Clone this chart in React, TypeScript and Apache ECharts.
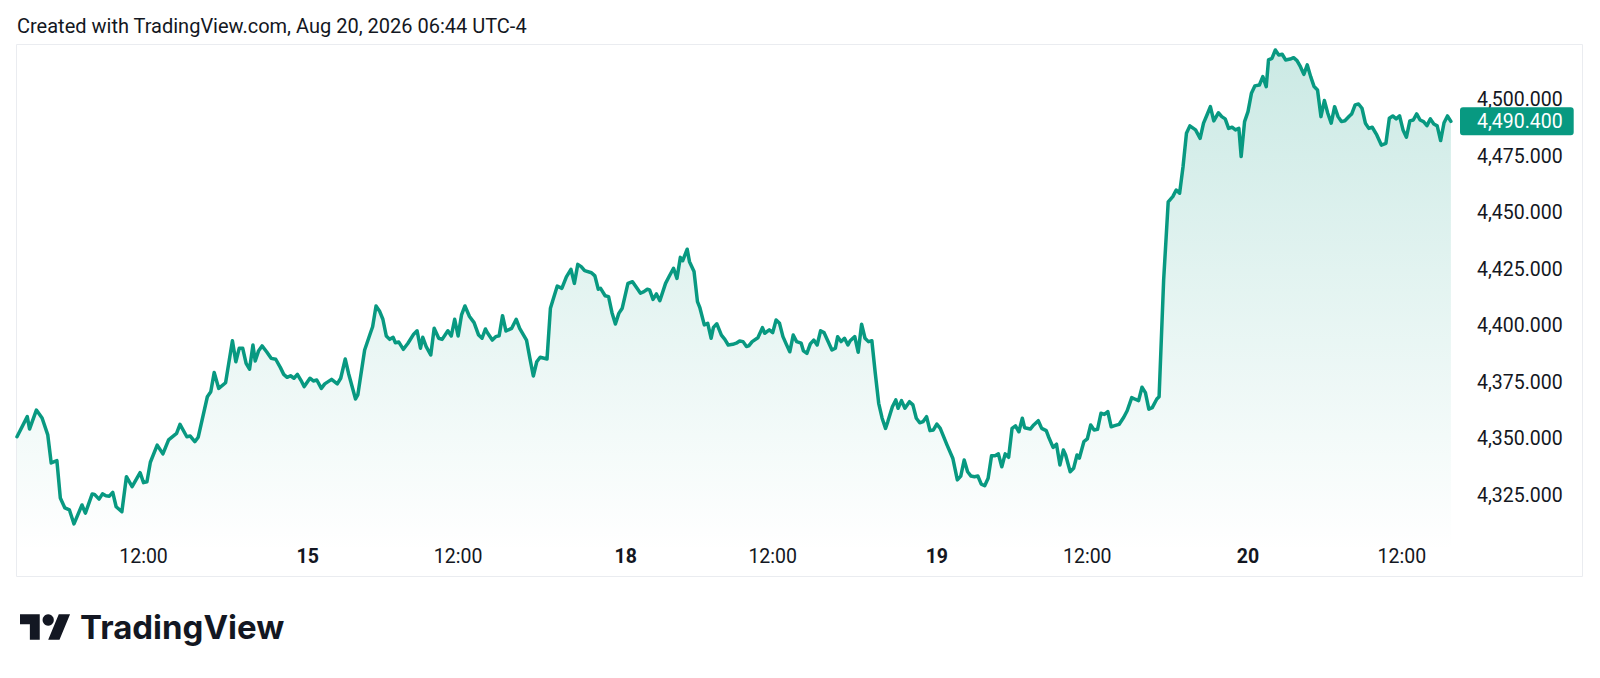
import React, { useEffect, useRef } from "react";
import * as echarts from "echarts";

// time slot (5-minute steps along the compressed trading-time axis)
const slotTimes = [
  0, 9, 11, 17, 22, 27, 30, 35, 38, 42, 46, 50, 57, 60, 66, 68, 72, 75, 78, 81, 84, 87, 92, 96, 101, 108, 111, 114, 117, 123,
  128, 133, 140, 143, 149, 152, 156, 159, 167, 170, 173, 177, 183, 189, 192, 195, 198, 201, 204, 207, 209, 212, 215, 219, 223,
  227, 231, 234, 237, 240, 243, 246, 249, 252, 257, 260, 263, 267, 270, 276, 281, 284, 288, 291, 297, 299, 305, 310, 312, 315,
  318, 321, 324, 327, 330, 332, 335, 339, 343, 348, 351, 354, 356, 359, 363, 366, 370, 373, 378, 381, 384, 387, 390, 393, 397,
  401, 405, 408, 411, 413, 417, 420, 423, 426, 429, 434, 438, 441, 447, 450, 453, 456, 459, 465, 468, 470, 474, 478, 482, 486,
  489, 492, 495, 498, 504, 507, 510, 512, 516, 519, 522, 525, 528, 531, 536, 540, 544, 547, 550, 553, 555, 558, 561, 564, 569,
  572, 576, 579, 582, 584, 588, 590, 594, 597, 599, 603, 606, 609, 611, 614, 618, 621, 624, 628, 631, 634, 637, 640, 642, 645,
  650, 654, 656, 660, 663, 666, 669, 672, 675, 678, 681, 684, 688, 690, 693, 696, 699, 702, 705, 708, 711, 715, 718, 720, 723,
  726, 729, 731, 735, 738, 741, 744, 747, 750, 753, 756, 759, 762, 764, 768, 771, 773, 776, 779, 783, 786, 789, 792, 795, 798,
  801, 804, 807, 810, 816, 821, 825, 828, 831, 834, 837, 840, 843, 846, 849, 852, 855, 858, 861, 864, 867, 870, 873, 876, 879,
  882, 884, 889, 892, 896, 899, 903, 905, 909, 912, 915, 918, 920, 924, 927, 930, 932, 936, 939, 942, 945, 948, 951, 954, 957,
  960, 963, 967, 971, 974, 978, 981, 984, 987, 990, 993, 996, 1000, 1002, 1006, 1010, 1014, 1017, 1020, 1023, 1026, 1029, 1034,
  1038, 1041, 1044, 1047, 1050, 1054, 1057, 1060, 1063, 1066, 1069, 1072, 1074, 1077, 1080, 1083, 1086, 1090, 1093, 1096, 1098,
  1101, 1104, 1107, 1110, 1113, 1117, 1120, 1123, 1126, 1129, 1132, 1135, 1138, 1141, 1144, 1147, 1150, 1153, 1156, 1159, 1162,
  1165, 1169, 1171, 1174, 1177, 1180, 1183, 1186, 1189, 1193, 1197, 1201, 1204, 1207, 1210, 1213, 1216, 1219, 1222, 1225, 1228,
  1231, 1234, 1237, 1240, 1243, 1246, 1249, 1252, 1255, 1258,
];

const prices = [
  4350.8, 4359.7, 4354.2, 4362.6, 4359.1, 4351.6, 4339.2, 4340.2, 4323.7, 4319.3, 4318.4, 4312.2, 4320.6, 4317.0, 4325.5,
  4325.3, 4323.2, 4325.5, 4324.7, 4324.5, 4326.2, 4319.8, 4317.6, 4333.1, 4328.7, 4334.9, 4330.5, 4330.9, 4339.5, 4347.1,
  4343.2, 4349.4, 4352.3, 4356.3, 4350.8, 4351.1, 4348.6, 4350.6, 4368.5, 4370.7, 4379.2, 4372.2, 4374.7, 4393.3, 4384.0,
  4390.0, 4390.0, 4383.3, 4380.7, 4391.4, 4384.3, 4388.9, 4391.0, 4388.4, 4385.5, 4385.1, 4381.5, 4378.4, 4377.1, 4377.8,
  4376.7, 4378.4, 4375.9, 4373.0, 4376.7, 4375.5, 4375.9, 4372.2, 4374.2, 4376.2, 4374.2, 4376.7, 4385.2, 4378.6, 4367.5,
  4369.3, 4389.2, 4396.6, 4399.5, 4408.7, 4406.5, 4402.8, 4395.4, 4393.9, 4394.8, 4392.4, 4392.7, 4389.5, 4392.2, 4396.2,
  4397.7, 4390.0, 4394.8, 4390.7, 4387.0, 4398.8, 4394.4, 4393.9, 4397.7, 4395.4, 4402.8, 4395.4, 4404.7, 4408.7, 4404.0,
  4401.3, 4395.8, 4394.4, 4398.5, 4396.6, 4393.6, 4395.1, 4395.5, 4404.4, 4397.6, 4398.8, 4402.8, 4398.8, 4393.6, 4385.5,
  4377.7, 4384.0, 4386.0, 4385.2, 4407.7, 4411.0, 4417.5, 4416.5, 4421.6, 4424.9, 4418.7, 4427.1, 4426.1, 4424.3, 4423.4,
  4422.0, 4416.1, 4416.5, 4413.2, 4412.8, 4405.7, 4400.7, 4405.4, 4407.7, 4418.7, 4419.4, 4416.5, 4414.3, 4415.0, 4416.1,
  4415.8, 4411.6, 4414.0, 4411.0, 4418.7, 4421.6, 4425.4, 4420.9, 4430.2, 4428.7, 4433.8, 4428.3, 4423.9, 4410.6, 4408.1,
  4400.3, 4401.0, 4394.4, 4399.2, 4400.8, 4395.8, 4393.9, 4391.4, 4391.7, 4392.2, 4393.2, 4392.9, 4390.7, 4391.0, 4392.9,
  4394.6, 4399.1, 4396.6, 4398.1, 4396.9, 4402.5, 4401.0, 4395.1, 4391.7, 4388.4, 4395.8, 4392.9, 4392.2, 4388.8, 4387.7,
  4391.9, 4393.6, 4391.4, 4397.7, 4396.9, 4393.6, 4389.2, 4390.0, 4395.1, 4392.9, 4394.4, 4391.4, 4393.3, 4395.1, 4388.2,
  4400.6, 4394.4, 4392.9, 4393.3, 4378.9, 4365.6, 4359.0, 4354.5, 4357.5, 4364.1, 4367.1, 4363.4, 4366.8, 4363.4, 4366.3,
  4364.9, 4359.0, 4357.0, 4357.5, 4359.7, 4353.5, 4353.8, 4356.4, 4354.5, 4347.1, 4341.3, 4331.7, 4333.4, 4340.5, 4335.3,
  4333.4, 4333.1, 4333.4, 4329.8, 4329.1, 4332.4, 4342.4, 4342.4, 4343.2, 4337.5, 4343.2, 4341.7, 4354.5, 4355.6, 4353.0,
  4359.0, 4354.8, 4354.2, 4356.0, 4357.9, 4354.5, 4353.5, 4350.8, 4346.1, 4347.5, 4338.3, 4344.9, 4342.7, 4335.3, 4336.8,
  4342.7, 4341.3, 4348.6, 4349.8, 4356.0, 4353.8, 4354.1, 4361.2, 4360.7, 4361.9, 4355.2, 4355.7, 4356.3, 4359.4, 4362.3,
  4368.1, 4367.4, 4366.8, 4372.7, 4370.3, 4363.0, 4363.7, 4367.5, 4368.5, 4420.2, 4454.8, 4457.1, 4460.0, 4458.6, 4470.3,
  4485.1, 4488.4, 4486.6, 4482.9, 4489.6, 4493.2, 4496.9, 4490.6, 4494.2, 4492.5, 4491.5, 4487.3, 4487.8, 4486.6, 4487.3,
  4474.8, 4490.3, 4494.7, 4502.8, 4506.1, 4506.5, 4510.2, 4505.8, 4517.6, 4518.3, 4522.0, 4519.8, 4520.1, 4517.6, 4518.0,
  4518.6, 4517.3, 4514.6, 4511.2, 4515.4, 4510.2, 4505.8, 4504.3, 4492.5, 4499.6, 4494.0, 4489.6, 4496.9, 4492.5, 4490.3,
  4490.7, 4492.8, 4493.7, 4497.7, 4498.1, 4496.2, 4489.6, 4487.3, 4487.8, 4484.4, 4479.9, 4480.7, 4491.8, 4492.8, 4491.5,
  4492.8, 4486.6, 4483.4, 4490.6, 4491.0, 4493.7, 4491.0, 4490.3, 4488.5, 4491.5, 4489.2, 4488.4, 4481.9, 4489.8, 4492.8,
  4490.4,
];

const SLOT_COUNT = 1267;
const timeLabelSlots = [111, 255, 387, 534, 663, 807, 939, 1080, 1215];
const timeLabelTexts = ["12:00", "15", "12:00", "18", "12:00", "19", "12:00", "20", "12:00"];
const dayLabelTexts = ["15", "18", "19", "20"];

const priceMin = 4300;
const priceMax = 4525;
const priceStep = 25;
const lastPrice = 4490.4;

const headerText = "Created with TradingView.com, Aug 20, 2026 06:44 UTC-4";
const brandText = "TradingView";

const GREEN = "#089981";
const INK = "#131722";
const FONT = "Roboto, 'Noto Sans', sans-serif";

const logoPath = "M14 22H7V11H0V4h14v18zM28 22h-8l7.5-18h8L28 22z";

function fmtPrice(v: number): string {
  const s = v.toFixed(3);
  const [i, d] = s.split(".");
  return i.replace(/\B(?=(\d{3})+(?!\d))/g, ",") + "." + d;
}

let logoRegistered = false;

export default function App() {
  const ref = useRef<HTMLDivElement>(null);

  useEffect(() => {
    if (!ref.current) return;
    if (!logoRegistered) {
      echarts.graphic.registerShape("tvlogo", echarts.graphic.extendPath(logoPath, {}));
      logoRegistered = true;
    }
    const chart = echarts.init(ref.current, undefined, { renderer: "svg" });

    const categories: string[] = [];
    for (let i = 0; i < SLOT_COUNT; i++) categories.push("");
    timeLabelSlots.forEach((s, k) => {
      categories[s] = timeLabelTexts[k];
    });

    const n = Math.min(slotTimes.length, prices.length);
    const seriesData: [number, number][] = [];
    for (let i = 0; i < n; i++) seriesData.push([slotTimes[i], prices[i]]);

    chart.setOption({
      animation: false,
      backgroundColor: "#ffffff",
      grid: { left: 17, right: 140, top: 43.2, bottom: 126.5, containLabel: false },
      xAxis: {
        type: "category",
        data: categories,
        boundaryGap: false,
        axisLine: { show: false },
        axisTick: { show: false },
        splitLine: { show: false },
        axisLabel: {
          interval: (_i: number, v: string) => v !== "",
          formatter: (v: string) => (dayLabelTexts.includes(v) ? `{b|${v}}` : v),
          color: INK,
          fontSize: 19.5,
          fontFamily: FONT,
          verticalAlign: "middle",
          margin: 5,
          rich: {
            b: { fontWeight: "bold", fontSize: 19.5, fontFamily: FONT, color: INK },
          },
        },
      },
      yAxis: {
        type: "value",
        position: "right",
        min: priceMin,
        max: priceMax,
        interval: priceStep,
        axisLine: { show: false },
        axisTick: { show: false },
        splitLine: { show: false },
        axisLabel: {
          margin: 17,
          align: "left",
          color: INK,
          fontSize: 19.5,
          fontFamily: FONT,
          formatter: (v: number) => (v === priceMin || v === priceMax ? "" : fmtPrice(v)),
        },
      },
      series: [
        {
          type: "line",
          data: seriesData,
          symbol: "none",
          showSymbol: false,
          smooth: false,
          lineStyle: { color: GREEN, width: 3.5, join: "round", cap: "round" },
          areaStyle: {
            color: new echarts.graphic.LinearGradient(0, 0, 0, 1, [
              { offset: 0, color: "rgba(8,153,129,0.30)" },
              { offset: 1, color: "rgba(8,153,129,0.0)" },
            ]),
          },
          markLine: {
            silent: true,
            symbol: ["none", "none"],
            lineStyle: { color: "transparent", width: 0 },
            label: {
              show: true,
              position: "end",
              distance: 0,
              formatter: () => fmtPrice(lastPrice),
              color: "#ffffff",
              backgroundColor: GREEN,
              padding: [4, 11, 4, 17],
              borderRadius: 3,
              fontSize: 19.5,
              lineHeight: 20,
              fontFamily: FONT,
            },
            data: [{ yAxis: lastPrice }],
          },
        },
      ],
      graphic: [
        {
          type: "rect",
          silent: true,
          z: -10,
          shape: { x: 16.5, y: 44.5, width: 1566, height: 532 },
          style: { fill: "none", stroke: "#eaecf0", lineWidth: 1 },
        },
        {
          type: "text",
          silent: true,
          x: 17,
          y: 25.5,
          style: {
            text: headerText,
            fill: INK,
            fontSize: 20,
            fontFamily: FONT,
            verticalAlign: "middle",
            align: "left",
          },
        },
        {
          type: "tvlogo",
          silent: true,
          x: 20,
          y: 608.7,
          scaleX: 1.41,
          scaleY: 1.41,
          style: { fill: INK },
        },
        {
          type: "circle",
          silent: true,
          shape: { cx: 48.2, cy: 620, r: 5.64 },
          style: { fill: INK },
        },
        {
          type: "text",
          silent: true,
          x: 80,
          y: 627,
          style: {
            text: brandText,
            fill: INK,
            fontSize: 33,
            fontWeight: 700,
            fontFamily: "Inter, Roboto, sans-serif",
            verticalAlign: "middle",
            align: "left",
          },
        },
      ],
    });

    return () => {
      chart.dispose();
    };
  }, []);

  return (
    <div
      style={{
        position: "fixed",
        left: 0,
        top: 0,
        width: 1600,
        height: 678,
        background: "#ffffff",
      }}
    >
      <div ref={ref} style={{ width: 1600, height: 678 }} />
    </div>
  );
}
